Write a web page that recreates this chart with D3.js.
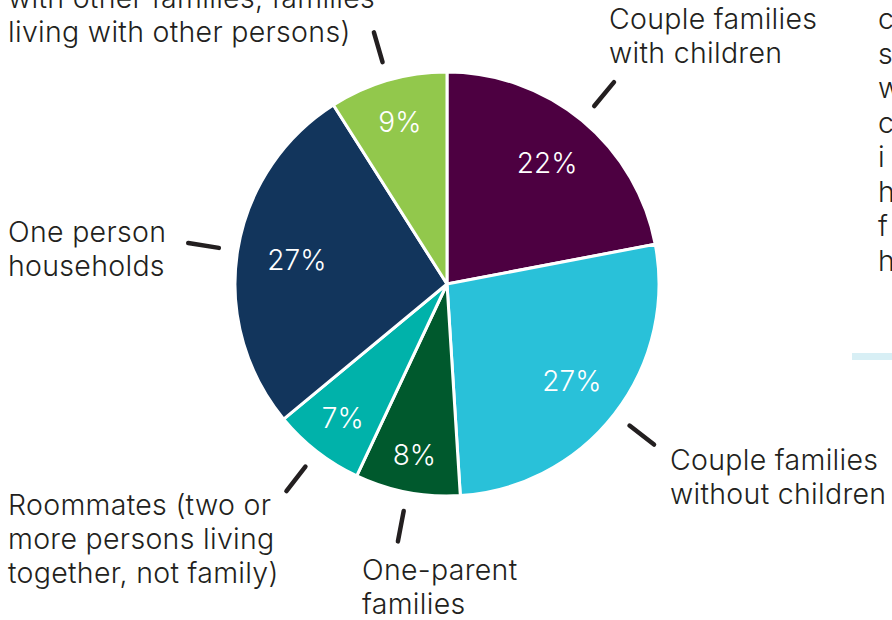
<!DOCTYPE html>
<html>
<head>
<meta charset="utf-8">
<script src="https://cdn.jsdelivr.net/npm/d3@7"></script>
<style>
  body { margin: 0; background: #fff; }
  svg { display: block; font-family: Inter, Roboto, "Noto Sans", sans-serif; }
</style>
</head>
<body>
<script>
// household types, clockwise from 12 o'clock
const categories = [
  "Couple families with children",
  "Couple families without children",
  "One-parent families",
  "Roommates",
  "One person households",
  "Other"
];
const shares = [22, 27, 8, 7, 27, 9];
const colours = ["#4d0041", "#29c1d9", "#00592d", "#00b2aa", "#12355c", "#92c84c"];

// label text, one entry per line
const labelLines = [
  ["Couple families", "with children"],
  ["Couple families", "without children"],
  ["One-parent", "families"],
  ["Roommates (two or", "more persons living", "together, not family)"],
  ["One person", "households"],
  ["with other families, families", "living with other persons)"]
];
// cut-off paragraph on the right edge
const sideText = ["c", "s", "w", "c", "i", "h", "f", "h"];

const width = 892, height = 620;
const cx = 447, cy = 284, radius = 212;
const lineH = 34;

// where each label block starts (x, first baseline)
const labelPos = [
  [609, 29], [670, 470], [362, 580], [8, 515], [8, 242], [8, 8]
];
// distance of the % labels from the centre
const pctR = [157, 158, 174, 170, 152, 169];

const svg = d3.select("body").append("svg")
  .attr("width", width)
  .attr("height", height);

const data = categories.map((c, i) => ({ name: c, value: shares[i], i: i }));

const pie = d3.pie().sort(null).value(d => d.value);
const arcs = pie(data);

const arc = d3.arc().innerRadius(0).outerRadius(radius);
const tickIn = d3.arc().innerRadius(231).outerRadius(231);
const tickOut = d3.arc().innerRadius(262).outerRadius(262);

function pctPos(d) {
  const r = pctR[d.data.i];
  return d3.arc().innerRadius(r).outerRadius(r).centroid(d);
}

const g = svg.append("g").attr("transform", `translate(${cx},${cy})`);

g.selectAll("path.slice")
  .data(arcs)
  .join("path")
  .attr("class", "slice")
  .attr("d", arc)
  .attr("fill", d => colours[d.data.i])
  .attr("stroke", "#fff")
  .attr("stroke-width", 3)
  .attr("stroke-linejoin", "round");

g.selectAll("text.pct")
  .data(arcs)
  .join("text")
  .attr("class", "pct")
  .attr("x", d => pctPos(d)[0])
  .attr("y", d => pctPos(d)[1])
  .attr("dy", "0.36em")
  .attr("text-anchor", "middle")
  .attr("fill", "#fff")
  .attr("font-size", 28)
  .attr("font-weight", 300)
  .text(d => d.data.value + "%");

// short leader ticks
g.selectAll("line.tick")
  .data(arcs)
  .join("line")
  .attr("class", "tick")
  .attr("x1", d => tickIn.centroid(d)[0])
  .attr("y1", d => tickIn.centroid(d)[1])
  .attr("x2", d => tickOut.centroid(d)[0])
  .attr("y2", d => tickOut.centroid(d)[1])
  .attr("stroke", "#231f20")
  .attr("stroke-width", 4.5)
  .attr("stroke-linecap", "round");

// category labels
labelLines.forEach((lines, i) => {
  const t = svg.append("text")
    .attr("x", labelPos[i][0])
    .attr("y", labelPos[i][1])
    .attr("fill", "#231f20")
    .attr("font-size", 28.5)
    .attr("font-weight", 300)
    .attr("letter-spacing", 0.3);
  lines.forEach((l, j) => {
    t.append("tspan")
      .attr("x", labelPos[i][0])
      .attr("y", labelPos[i][1] + j * lineH)
      .text(l);
  });
});

// right-hand panel remnants
svg.append("g").selectAll("text")
  .data(sideText)
  .join("text")
  .attr("x", 878)
  .attr("y", (d, i) => 29 + i * 34.5)
  .attr("fill", "#231f20")
  .attr("font-size", 28.5)
  .attr("font-weight", 300)
  .text(d => d);

svg.append("rect")
  .attr("x", 852)
  .attr("y", 353)
  .attr("width", 40)
  .attr("height", 7)
  .attr("fill", "#d8eff5");
</script>
</body>
</html>
